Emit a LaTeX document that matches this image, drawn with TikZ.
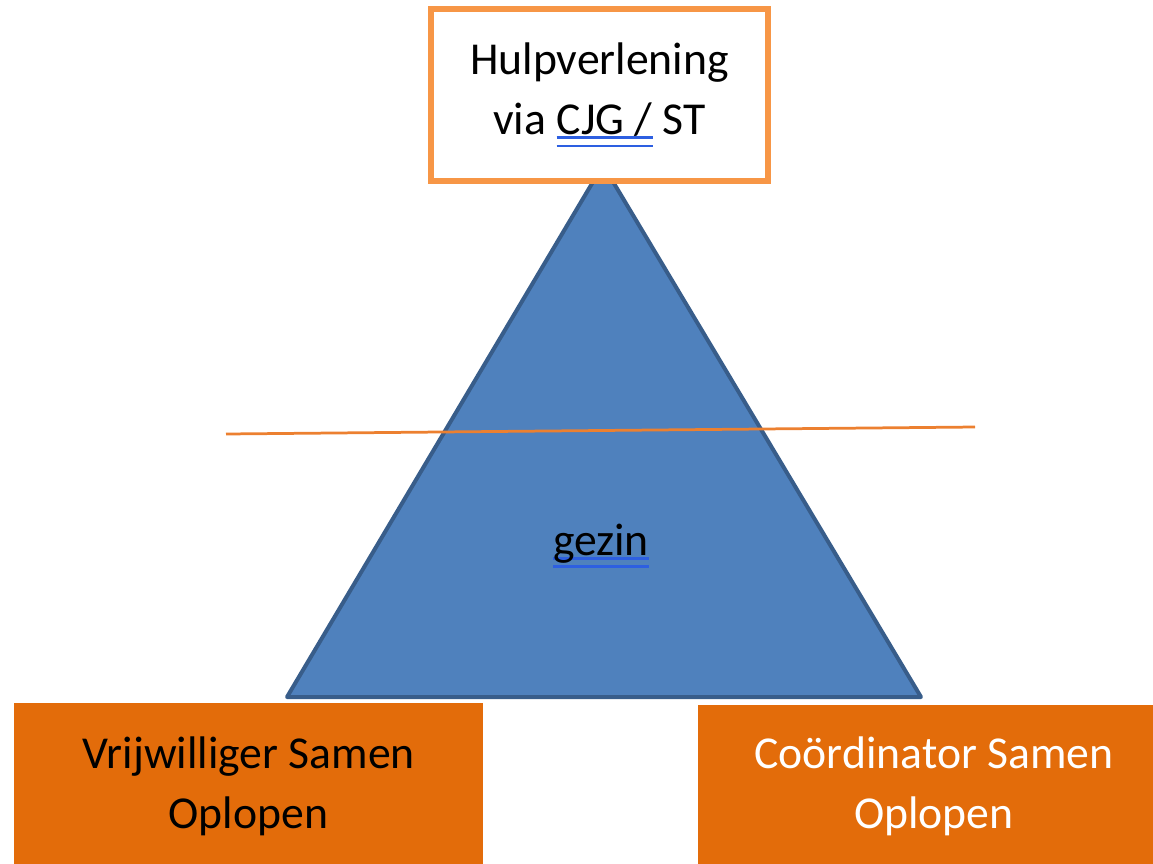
\documentclass[tikz,border=0pt]{standalone}
\usepackage{fontspec}
\setmainfont{Carlito}
\usepackage{tikz}
\definecolor{boxline}{RGB}{247,150,70}
\definecolor{boxfill}{RGB}{227,108,10}
\definecolor{trifill}{RGB}{79,129,189}
\definecolor{triline}{RGB}{56,93,138}
\definecolor{cutline}{RGB}{236,128,48}
\definecolor{ulblue}{RGB}{45,95,225}
\tikzstyle{box} = [rectangle,inner sep=0pt,align=center,font=\fontsize{26}{34}\selectfont]
\tikzstyle{tri} = [fill=trifill,draw=triline,line width=0.08cm,line join=round]
\newcommand{\dblul}[1]{\leavevmode\setbox0\hbox{#1}%
  \rlap{\color{ulblue}\rule[-0.10em]{\wd0}{0.055em}}%
  \rlap{\color{ulblue}\rule[-0.28em]{\wd0}{0.055em}}\box0\relax}

\begin{document}
\begin{tikzpicture}[x=0.02cm,y=-0.02cm]
		\useasboundingbox (0,0) rectangle (1153,863);
		\coordinate (top) at (603,165);
		\coordinate (bl) at (287,697);
		\coordinate (br) at (921,697);
		\coordinate (l1) at (226,434);
		\coordinate (l2) at (975,427);
		
		\draw[tri](top)--(bl)--(br)--cycle;
		\draw[cutline,line width=0.055cm](l1)--(l2);
		\node [anchor=base,font=\fontsize{26}{34}\selectfont](g) at (601,555){\dblul{gezin}};
		
		\node [box,draw=boxline,line width=0.12cm,fill=white,minimum width=6.74cm,minimum height=3.44cm](h) at (599.5,95){Hulpverlening\\via \dblul{CJG /} ST};
		\node [box,fill=boxfill,text=black,minimum width=9.38cm,minimum height=3.32cm](v) at (248.5,786){Vrijwilliger Samen\\Oplopen};
		\node [box,fill=boxfill,text=white,minimum width=9.44cm,minimum height=3.24cm](c) at (934,786){Coördinator Samen\\Oplopen};
		\end{tikzpicture}
\end{document}
